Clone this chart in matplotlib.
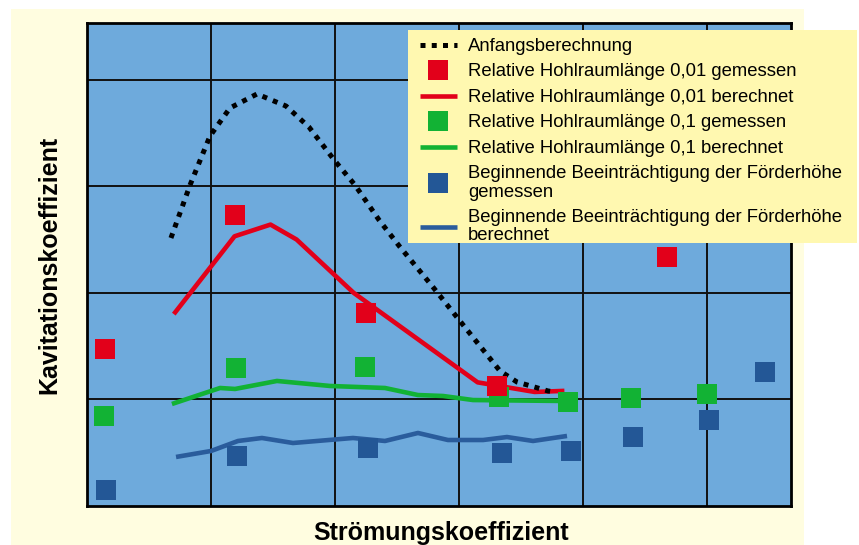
import matplotlib
matplotlib.use("Agg")
import matplotlib.pyplot as plt
from matplotlib.lines import Line2D
from matplotlib.patches import Rectangle

# ---- data (arbitrary units) ----
anf_x = [0.677, 0.831, 0.992, 1.153, 1.371, 1.605, 1.790, 2.000, 2.161, 2.355,
         2.524, 2.790, 3.008, 3.169, 3.331, 3.468, 3.718, 3.782]
anf_y = [2.514, 3.011, 3.471, 3.734, 3.865, 3.752, 3.555, 3.236, 3.011, 2.683,
         2.430, 2.054, 1.735, 1.501, 1.266, 1.163, 1.079, 1.069]

red_calc_x = [0.70, 1.19, 1.48, 1.69, 2.15, 3.15, 3.61, 3.85]
red_calc_y = [1.80, 2.53, 2.64, 2.50, 2.00, 1.16, 1.07, 1.08]
red_meas_x = [0.145, 1.19, 2.25, 3.31, 4.68]
red_meas_y = [1.47, 2.73, 1.81, 1.13, 2.34]

green_calc_x = [0.685, 1.073, 1.194, 1.532, 1.960, 2.403, 2.669, 2.871, 3.113, 3.855]
green_calc_y = [0.957, 1.107, 1.098, 1.173, 1.126, 1.107, 1.041, 1.032, 0.994, 0.985]
green_meas_x = [0.135, 1.20, 2.24, 3.32, 3.88, 4.39, 5.00]
green_meas_y = [0.84, 1.29, 1.30, 1.02, 0.98, 1.01, 1.05]

blue_calc_x = [0.718, 1.000, 1.218, 1.411, 1.661, 2.145, 2.403, 2.669, 2.911,
               3.194, 3.387, 3.597, 3.871]
blue_calc_y = [0.460, 0.516, 0.610, 0.638, 0.591, 0.638, 0.610, 0.685, 0.619,
               0.619, 0.647, 0.610, 0.657]
blue_meas_x = [0.15, 1.21, 2.27, 3.35, 3.90, 4.40, 5.02, 5.47]
blue_meas_y = [0.15, 0.47, 0.54, 0.50, 0.52, 0.65, 0.81, 1.26]

labels = [
    "Anfangsberechnung",
    "Relative Hohlraumlänge 0,01 gemessen",
    "Relative Hohlraumlänge 0,01 berechnet",
    "Relative Hohlraumlänge 0,1 gemessen",
    "Relative Hohlraumlänge 0,1 berechnet",
    "Beginnende Beeinträchtigung der Förderhöhe\ngemessen",
    "Beginnende Beeinträchtigung der Förderhöhe\nberechnet",
]
xlabel = "Strömungskoeffizient"
ylabel = "Kavitationskoeffizient"

# ---- styles ----
RED = "#e2001a"
GREEN = "#12b234"
BLUE_M = "#235796"
BLUE_L = "#2a5c9c"
PLOT_BG = "#6eaadc"
FIG_BG = "#fffde0"
LEG_BG = "#fff8b0"
LW = 3.3
MS = 14.4
DOT_LW = 3.6
DOTS = (0, (1, 1.25))

plt.rcParams["font.family"] = ["Liberation Sans", "DejaVu Sans"]

W, H = 859, 545
fig = plt.figure(figsize=(W / 100, H / 100), dpi=100, facecolor="white")

def fx(px):
    return px / W

def fy(py):
    return 1 - py / H

# yellow page background
fig.add_artist(Rectangle((fx(11), fy(545)), fx(804) - fx(11), fy(9) - fy(545),
                         transform=fig.transFigure, facecolor=FIG_BG,
                         edgecolor="none", zorder=-10))

ax = fig.add_axes([fx(87), fy(506), fx(791) - fx(87), fy(23) - fy(506)])
ax.set_facecolor(PLOT_BG)
ax.set_xlim(0, 704 / 124)
ax.set_ylim(0, 483 / 106.6)
ax.set_xticks([1, 2, 3, 4, 5])
ax.set_yticks([1, 2, 3, 4])
ax.tick_params(length=0, labelbottom=False, labelleft=False)
ax.grid(True, color="#111111", linewidth=1.4)
ax.set_axisbelow(True)
for s in ax.spines.values():
    s.set_linewidth(2)
    s.set_color("black")

ax.plot(red_calc_x, red_calc_y, color=RED, lw=LW, solid_capstyle="butt", zorder=3)
ax.plot(green_calc_x, green_calc_y, color=GREEN, lw=LW, solid_capstyle="butt", zorder=3)
ax.plot(blue_calc_x, blue_calc_y, color=BLUE_L, lw=LW, solid_capstyle="butt", zorder=3)
ax.plot(anf_x, anf_y, color="black", lw=DOT_LW, linestyle=DOTS,
        dash_capstyle="butt", zorder=4)

ax.plot(blue_meas_x, blue_meas_y, "s", color=BLUE_M, ms=MS, mew=0, zorder=5)
ax.plot(green_meas_x, green_meas_y, "s", color=GREEN, ms=MS, mew=0, zorder=6)
ax.plot(red_meas_x, red_meas_y, "s", color=RED, ms=MS, mew=0, zorder=7)

# legend background
fig.add_artist(Rectangle((fx(408), fy(243)), fx(857) - fx(408), fy(30) - fy(243),
                         transform=fig.transFigure, facecolor=LEG_BG,
                         edgecolor="none", zorder=5))

handles = [
    Line2D([], [], color="black", lw=DOT_LW, linestyle=DOTS, dash_capstyle="butt"),
    Line2D([], [], marker="s", color=RED, ms=MS, mew=0, linestyle="none"),
    Line2D([], [], color=RED, lw=LW, solid_capstyle="butt"),
    Line2D([], [], marker="s", color=GREEN, ms=MS, mew=0, linestyle="none"),
    Line2D([], [], color=GREEN, lw=LW, solid_capstyle="butt"),
    Line2D([], [], marker="s", color=BLUE_M, ms=MS, mew=0, linestyle="none"),
    Line2D([], [], color=BLUE_L, lw=LW, solid_capstyle="butt"),
]
leg = fig.legend(handles, labels, loc="upper left",
                 bbox_to_anchor=(fx(420), fy(38)),
                 bbox_transform=fig.transFigure, frameon=False,
                 borderpad=0, borderaxespad=0, fontsize=13.3,
                 handlelength=2.0, handletextpad=0.6, labelspacing=0.46)
leg.set_zorder(6)
for t in leg.get_texts():
    t.set_linespacing(1.08)

fig.text(fx(441.5), fy(540), xlabel, ha="center", va="baseline",
         fontsize=18, fontweight="bold")
fig.text(fx(56), fy(264.5), ylabel, ha="center", va="baseline", rotation=90,
         rotation_mode="anchor", fontsize=18, fontweight="bold")

fig.savefig("out.png", dpi=100, facecolor=fig.get_facecolor())
